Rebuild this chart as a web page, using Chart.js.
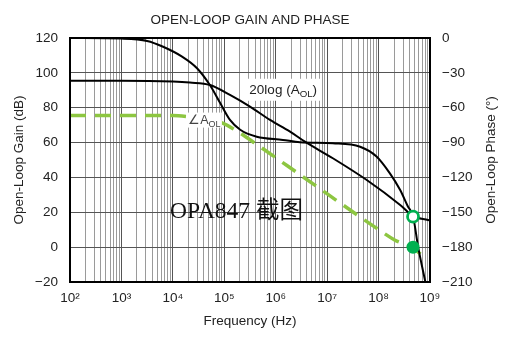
<!DOCTYPE html>
<html>
<head>
<meta charset="utf-8">
<script src="https://cdn.jsdelivr.net/npm/chart.js@4.4.1/dist/chart.umd.min.js"></script>
<style>
  html, body { margin: 0; padding: 0; background: #fff; }
  #wrap { width: 510px; height: 338px; position: relative; }
</style>
</head>
<body>
<div id="wrap"><canvas id="olChart"></canvas></div>
<script>
// 開ループ利得 20log(AOL) [dB]
var gainFreq = [1e2, 1e3, 1e4, 2.14e4, 5.27e4, 1.29e5, 3.16e5, 7.74e5, 1.9e6, 3.7e6, 1.29e7, 5.89e7, 2.63e8, 4.68e8, 9.12e8, 1e9];
var gainDb   = [95.5, 95.5, 95, 94.4, 93, 87.3, 80.6, 73, 66.3, 60.5, 51, 38.5, 24.2, 17.8, 15.6, 15.3];

// 開ループ位相 ∠AOL [deg]
var phaseFreq = [1e2, 1e3, 3.16e3, 6.46e3, 1.51e4, 2.95e4, 5.25e4, 8.32e4, 1.29e5, 2.04e5, 4.27e5, 1.38e6, 2.95e6, 1.29e7, 4.37e7, 9.12e7, 1.66e8, 2.63e8, 3.72e8, 4.68e8, 5.89e8, 8.13e8];
var phaseDeg  = [0, -0.5, -2.5, -7.5, -16, -26, -40.5, -56, -70.5, -79, -85, -87.7, -89.7, -90.6, -93.6, -102, -116.5, -130.8, -145, -153.3, -180, -210];

// 緑の破線
var zFreq = [1e2, 1e4, 2.14e4, 5.25e4, 9.55e4, 1.48e5, 5.01e5, 3.16e6, 8.51e7, 2.09e8, 4.68e8, 8.13e8];
var zDb   = [75.5, 75.5, 74.8, 73.5, 71, 68, 57.5, 41, 11.5, 4, -0.5, -6.5];

// マーカー
var ringPoint = [{x: 4.68e8, y: 17.5}];
var dotPoint  = [{x: 4.68e8, y: 0}];

var gainTicks  = [-20, 0, 20, 40, 60, 80, 100, 120];
var phaseTicks = [-210, -180, -150, -120, -90, -60, -30, 0];
var sup = {2: '²', 3: '³', 4: '⁴', 5: '⁵', 6: '⁶', 7: '⁷', 8: '⁸', 9: '⁹'};

var FONT = "'Liberation Sans', Arial, sans-serif";

function toXY(xs, ys) {
  return xs.map(function (x, i) { return {x: x, y: ys[i]}; });
}

function isDecade(v) {
  var e = Math.log10(v);
  return Math.abs(e - Math.round(e)) < 1e-9;
}

function minus(v) {
  return String(v).replace('-', '\u2212');
}

// ラベル（下付き文字つき）
function subLabel(ctx, cx, cy, main, sub, tail, size, color, boxW, boxH) {
  ctx.save();
  ctx.fillStyle = '#fff';
  ctx.fillRect(cx - boxW / 2, cy - boxH / 2, boxW, boxH);
  ctx.font = size + 'px ' + FONT;
  var w1 = ctx.measureText(main).width;
  ctx.font = (size * 0.72) + 'px ' + FONT;
  var w2 = ctx.measureText(sub).width;
  ctx.font = size + 'px ' + FONT;
  var w3 = ctx.measureText(tail).width;
  var x = cx - (w1 + w2 + w3) / 2;
  var base = cy + size * 0.35;
  ctx.fillStyle = color;
  ctx.textBaseline = 'alphabetic';
  ctx.textAlign = 'left';
  ctx.fillText(main, x, base);
  ctx.font = (size * 0.72) + 'px ' + FONT;
  ctx.fillText(sub, x + w1, base + size * 0.22);
  ctx.font = size + 'px ' + FONT;
  ctx.fillText(tail, x + w1 + w2, base);
  ctx.restore();
}

var decorPlugin = {
  id: 'decor',
  afterDatasetsDraw: function (chart) {
    var ctx = chart.ctx;
    var a = chart.chartArea;
    var xs = chart.scales.x, ys = chart.scales.y;

    subLabel(ctx, xs.getPixelForValue(1.4e6), ys.getPixelForValue(90.3),
      '20log (A', 'OL', ')', 13.5, '#222', 77, 22);
    subLabel(ctx, xs.getPixelForValue(4.1e4), ys.getPixelForValue(72.9),
      '\u2220A', 'OL', '', 12.5, '#444', 35, 15);

    ctx.save();
    ctx.fillStyle = '#111';
    ctx.font = "23.5px 'Liberation Serif', 'Noto Sans CJK SC', serif";
    ctx.textAlign = 'left';
    ctx.textBaseline = 'alphabetic';
    ctx.fillText('OPA847 截图', a.left + 100, a.top + 180);
    ctx.restore();

    // 枠
    ctx.save();
    ctx.strokeStyle = '#000';
    ctx.lineWidth = 2;
    ctx.strokeRect(a.left, a.top, a.right - a.left, a.bottom - a.top);
    ctx.restore();
  },
  afterDraw: function (chart) {
    var ctx = chart.ctx;
    var a = chart.chartArea;
    ctx.save();
    ctx.fillStyle = '#222';
    ctx.font = '13.5px ' + FONT;
    ctx.textAlign = 'center';
    ctx.textBaseline = 'middle';
    ctx.fillText('OPEN-LOOP GAIN AND PHASE', (a.left + a.right) / 2, 20);
    ctx.translate(491, (a.top + a.bottom) / 2);
    ctx.rotate(-Math.PI / 2);
    ctx.fillText('Open-Loop Phase (°)', 0, 0);
    ctx.restore();
  }
};

var olChart = new Chart(document.getElementById('olChart'), {
  type: 'line',
  data: {
    datasets: [{
      label: 'ring',
      data: ringPoint,
      yAxisID: 'y',
      showLine: false,
      pointRadius: 5.5,
      pointBorderWidth: 2.8,
      pointBorderColor: '#00b050',
      pointBackgroundColor: '#fff',
      order: 0
    }, {
      label: 'dot',
      data: dotPoint,
      yAxisID: 'y',
      showLine: false,
      pointRadius: 6.5,
      pointBorderWidth: 0,
      pointBackgroundColor: '#00b050',
      order: 0
    }, {
      label: '20log (AOL)',
      data: toXY(gainFreq, gainDb),
      yAxisID: 'y',
      borderColor: '#000',
      borderWidth: 2,
      pointRadius: 0,
      cubicInterpolationMode: 'monotone',
      order: 1
    }, {
      label: 'phase',
      data: toXY(phaseFreq, phaseDeg),
      yAxisID: 'y2',
      borderColor: '#000',
      borderWidth: 2,
      pointRadius: 0,
      cubicInterpolationMode: 'monotone',
      order: 2
    }, {
      label: 'z',
      data: toXY(zFreq, zDb),
      yAxisID: 'y',
      borderColor: '#8dc641',
      borderWidth: 3.5,
      borderDash: [16, 9],
      pointRadius: 0,
      cubicInterpolationMode: 'monotone',
      order: 3
    }]
  },
  options: {
    responsive: true,
    maintainAspectRatio: false,
    animation: false,
    layout: { padding: { top: 38 } },
    plugins: {
      legend: { display: false },
      title: { display: false },
      tooltip: { enabled: false }
    },
    scales: {
      x: {
        type: 'logarithmic',
        min: 1e2,
        max: 1e9,
        afterFit: function (s) { s.height = 56; },
        afterBuildTicks: function (s) {
          var t = [];
          for (var d = 2; d < 9; d++) {
            for (var m = 1; m < 10; m++) t.push({value: m * Math.pow(10, d)});
          }
          t.push({value: 1e9});
          s.ticks = t;
        },
        ticks: {
          autoSkip: false,
          maxRotation: 0,
          padding: 8,
          color: '#222',
          font: { family: FONT, size: 13.5 },
          callback: function (v) {
            if (!isDecade(v)) return '';
            return '10' + sup[Math.round(Math.log10(v))];
          }
        },
        grid: {
          drawTicks: false,
          color: function (c) {
            return c.tick && isDecade(c.tick.value) ? '#555' : '#9a9a9a';
          },
          lineWidth: 1
        },
        border: { color: '#000', width: 2 },
        title: {
          display: true,
          text: 'Frequency (Hz)',
          color: '#222',
          font: { family: FONT, size: 13.5 },
          padding: { top: 0, bottom: 9 }
        }
      },
      y: {
        position: 'left',
        min: -20,
        max: 120,
        afterFit: function (s) { s.width = 70; },
        afterBuildTicks: function (s) {
          s.ticks = gainTicks.map(function (v) { return {value: v}; });
        },
        ticks: {
          padding: 12,
          color: '#222',
          font: { family: FONT, size: 13.5 },
          callback: function (v) { return minus(v); }
        },
        grid: { drawTicks: false, color: '#555', lineWidth: 1 },
        border: { color: '#000', width: 2 },
        title: {
          display: true,
          text: 'Open-Loop Gain (dB)',
          color: '#222',
          font: { family: FONT, size: 13.5 },
          padding: { top: 11, bottom: 0 }
        }
      },
      y2: {
        position: 'right',
        min: -210,
        max: 0,
        afterFit: function (s) { s.width = 80; },
        afterBuildTicks: function (s) {
          s.ticks = phaseTicks.map(function (v) { return {value: v}; });
        },
        ticks: {
          padding: 12,
          color: '#222',
          font: { family: FONT, size: 13.5 },
          callback: function (v) { return minus(v); }
        },
        grid: { drawOnChartArea: false, drawTicks: false },
        border: { color: '#000', width: 2 }
      }
    }
  },
  plugins: [decorPlugin]
});
</script>
</body>
</html>
